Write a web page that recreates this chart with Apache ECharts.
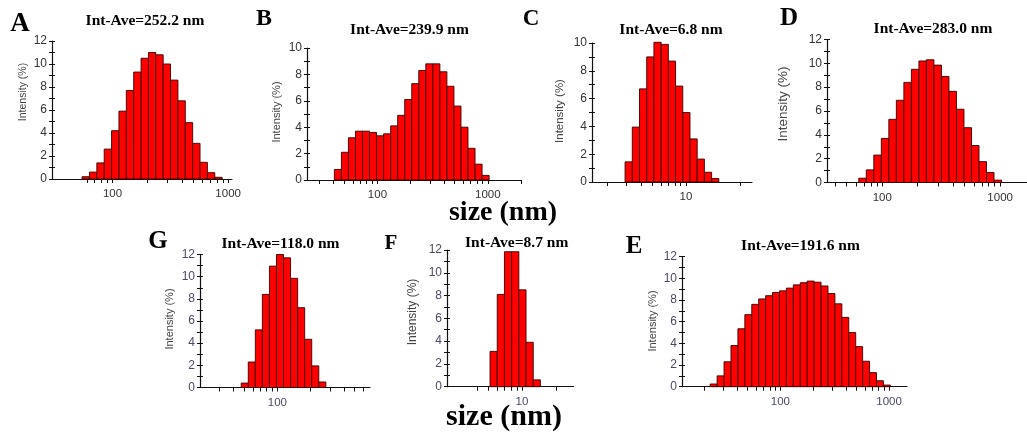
<!DOCTYPE html>
<html><head><meta charset="utf-8">
<script src="https://cdn.jsdelivr.net/npm/echarts@6/dist/echarts.min.js"></script>
<style>html,body{margin:0;padding:0;background:#fff}#c{width:1027px;height:433px}</style>
</head><body><div id="c"></div>
<script>
// ---------- DATA (bin centre size in nm, intensity in %) ----------
const sizesA = [58.77, 68.06, 78.82, 91.28, 105.7, 122.4, 141.8, 164.2, 190.1, 220.2, 255, 295.3, 342, 396.1, 458.7, 531.2, 615.1, 712.4, 825];
const intensityA = [0.2, 0.6, 1.4, 2.6, 4.2, 5.9, 7.7, 9.3, 10.5, 11.0, 10.8, 10.0, 8.6, 6.8, 4.9, 3.1, 1.45, 0.55, 0.15];

const sizesB = [43.82, 50.75, 58.77, 68.06, 78.82, 91.28, 105.7, 122.4, 141.8, 164.2, 190.1, 220.2, 255, 295.3, 342, 396.1, 458.7, 531.2, 615.1, 712.4, 825, 955.4];
const intensityB = [0.8, 2.1, 3.2, 3.7, 3.7, 3.6, 3.35, 3.5, 4.1, 4.9, 6.1, 7.3, 8.3, 8.8, 8.8, 8.2, 7.1, 5.6, 4.0, 2.4, 1.2, 0.35];

const sizesC = [3.122, 3.615, 4.187, 4.849, 5.615, 6.503, 7.531, 8.721, 10.1, 11.7, 13.54, 15.69, 18.17];
const intensityC = [1.45, 3.95, 6.7, 9.0, 10.05, 9.9, 8.7, 6.9, 5.0, 3.1, 1.65, 0.7, 0.25];

const sizesD = [68.06, 78.82, 91.28, 105.7, 122.4, 141.8, 164.2, 190.1, 220.2, 255, 295.3, 342, 396.1, 458.7, 531.2, 615.1, 712.4, 825, 955.4];
const intensityD = [0.36, 1.06, 2.3, 3.7, 5.3, 6.9, 8.4, 9.5, 10.2, 10.3, 9.85, 8.9, 7.65, 6.15, 4.6, 3.1, 1.75, 0.84, 0.2];

const sizesG = [50.75, 58.77, 68.06, 78.82, 91.28, 105.7, 122.4, 141.8, 164.2, 190.1, 220.2, 255];
const intensityG = [0.4, 2.3, 5.2, 8.4, 10.95, 12.0, 11.7, 9.85, 7.2, 4.35, 1.95, 0.5];

const sizesF = [5.615, 6.503, 7.531, 8.721, 10.1, 11.7, 13.54];
const intensityF = [3.1, 8.1, 11.85, 11.85, 8.5, 3.9, 0.6];

const sizesE = [24.36, 28.21, 32.67, 37.84, 43.82, 50.75, 58.77, 68.06, 78.82, 91.28, 105.7, 122.4, 141.8, 164.2, 190.1, 220.2, 255, 295.3, 342, 396.1, 458.7, 531.2, 615.1, 712.4, 825, 955.4];
const intensityE = [0.25, 1.0, 2.3, 3.8, 5.35, 6.65, 7.6, 8.1, 8.4, 8.7, 8.85, 9.1, 9.4, 9.6, 9.75, 9.65, 9.3, 8.6, 7.65, 6.4, 5.0, 3.7, 2.35, 1.3, 0.55, 0.15];

// ---------- TEXT / TICKS ----------
const panelLetters = ['A', 'B', 'C', 'D', 'G', 'F', 'E'];
const aveLabels = ['Int-Ave=252.2 nm', 'Int-Ave=239.9 nm', 'Int-Ave=6.8 nm', 'Int-Ave=283.0 nm', 'Int-Ave=118.0 nm', 'Int-Ave=8.7 nm', 'Int-Ave=191.6 nm'];
const yAxisTitle = 'Intensity (%)';
const xAxisTitle = 'size (nm)';
const yMaxes = [12, 10, 10, 12, 12, 12, 12];
const xLabelsA = [100, 1000], xLabelsB = [100, 1000], xLabelsC = [10], xLabelsD = [100, 1000], xLabelsG = [100], xLabelsF = [10], xLabelsE = [100, 1000];
const xTicksA = [60, 70, 80, 90, 100, 200, 300, 400, 500, 600, 700, 800, 900, 1000];
const xTicksB = [30, 40, 50, 60, 70, 80, 90, 100, 200, 300, 400, 500, 600, 700, 800, 900, 1000, 2000];
const xTicksC = [2, 3, 4, 5, 6, 7, 8, 9, 10, 30];
const xTicksD = [40, 50, 60, 70, 80, 90, 100, 200, 300, 400, 500, 600, 700, 800, 900, 1000];
const xTicksG = [30, 40, 50, 60, 70, 80, 90, 100, 200, 300, 400, 500, 600];
const xTicksF = [4, 5, 6, 7, 8, 9, 10, 20];
const xTicksE = [20, 30, 40, 50, 60, 70, 80, 90, 100, 200, 300, 400, 500, 600, 700, 800, 900, 1000];

const panels = [
  {sizes: sizesA, vals: intensityA, xl: xLabelsA, xt: xTicksA},
  {sizes: sizesB, vals: intensityB, xl: xLabelsB, xt: xTicksB},
  {sizes: sizesC, vals: intensityC, xl: xLabelsC, xt: xTicksC},
  {sizes: sizesD, vals: intensityD, xl: xLabelsD, xt: xTicksD},
  {sizes: sizesG, vals: intensityG, xl: xLabelsG, xt: xTicksG},
  {sizes: sizesF, vals: intensityF, xl: xLabelsF, xt: xTicksF},
  {sizes: sizesE, vals: intensityE, xl: xLabelsE, xt: xTicksE}
];

// ---------- LAYOUT (pixels) ----------
const geo = [
  {l: 52,  r: 232,  t: 41,    b: 179,   xmin: 30,   xmax: 1080, letter: [20, 24, 27],   title: [145, 21],    yname: [23, 92, 10.5],   lab: '#333'},
  {l: 307, r: 521,  t: 48,    b: 180,   xmin: 23,   xmax: 2000, letter: [264, 18.5, 24], title: [409.5, 30],  yname: [277, 112, 11],   lab: '#333'},
  {l: 592, r: 752,  t: 43,    b: 182,   xmin: 1.48, xmax: 38.4, letter: [531, 19.5, 23], title: [671, 29.5],  yname: [560, 111, 11.5], lab: '#333'},
  {l: 827, r: 1027, t: 39.5,  b: 182.5, xmin: 34,   xmax: 1690, letter: [789, 18.5, 25], title: [933, 29],    yname: [783, 104, 13.5], lab: '#333'},
  {l: 200, r: 370,  t: 254.5, b: 387.5, xmin: 20,   xmax: 688,  letter: [158, 242, 25],  title: [280.5, 243.5], yname: [170, 319, 11],  lab: '#4a4a66'},
  {l: 447, r: 573.5, t: 250,  b: 386.7, xmin: 2.17, xmax: 28.6, letter: [391, 243.5, 21], title: [516.7, 243], yname: [413, 312, 12],  lab: '#4a4a66'},
  {l: 682, r: 907,  t: 256.7, b: 386.7, xmin: 12.46, xmax: 1463, letter: [634, 247, 25], title: [800.5, 245.5], yname: [653, 321, 11],  lab: '#4a4a66'}
];

function toBars(sizes, vals) {
  return sizes.map((s, i) => {
    const prev = i > 0 ? sizes[i - 1] : s * s / sizes[i + 1];
    const next = i < sizes.length - 1 ? sizes[i + 1] : s * s / sizes[i - 1];
    return [Math.sqrt(prev * s), Math.sqrt(s * next), vals[i]];
  });
}

const SERIF = '"Liberation Serif","Times New Roman",serif';
const SANS = '"Liberation Sans",Arial,sans-serif';

const grid = [], xAxis = [], yAxis = [], series = [], graphic = [];
panels.forEach((p, i) => {
  const g = geo[i];
  grid.push({left: g.l, top: g.t, width: g.r - g.l, height: g.b - g.t, containLabel: false, outerBoundsMode: 'none'});
  xAxis.push({
    type: 'log', logBase: 10, gridIndex: i, min: g.xmin, max: g.xmax, position: 'bottom',
    axisLine: {show: true, onZero: false, lineStyle: {color: '#111', width: 1.2}},
    axisTick: {show: true, length: 4, customValues: p.xt, lineStyle: {color: '#111', width: 1}},
    axisLabel: {show: true, customValues: p.xl, margin: 9, fontFamily: SANS, fontSize: 11.5, color: g.lab,
      formatter: v => String(Math.round(v))},
    splitLine: {show: false}, minorTick: {show: false}, minorSplitLine: {show: false}
  });
  const yBase = {type: 'value', gridIndex: i, position: 'left', offset: 0, min: 0, max: yMaxes[i], interval: 2, splitLine: {show: false}};
  yAxis.push(Object.assign({}, yBase, {
    axisLine: {show: true, onZero: false, lineStyle: {color: '#111', width: 1.2}},
    axisTick: {show: true, length: 3, lineStyle: {color: '#111'}},
    minorTick: {show: true, splitNumber: 2, length: 3, lineStyle: {color: '#111'}},
    axisLabel: {show: true, margin: 5, fontFamily: SANS, fontSize: 12, color: g.lab}
  }));
  yAxis.push(Object.assign({}, yBase, {
    axisLine: {show: false, onZero: false},
    axisTick: {show: true, inside: true, length: 3, lineStyle: {color: '#111'}},
    minorTick: {show: true, splitNumber: 2, length: 3, lineStyle: {color: '#111'}},
    axisLabel: {show: false}
  }));
  series.push({
    type: 'custom', xAxisIndex: i, yAxisIndex: 2 * i,
    data: toBars(p.sizes, p.vals),
    encode: {x: [0, 1], y: 2},
    renderItem: (params, api) => {
      const a = api.coord([api.value(0), api.value(2)]);
      const b = api.coord([api.value(1), 0]);
      return {type: 'rect', shape: {x: a[0], y: a[1], width: b[0] - a[0], height: b[1] - a[1]},
        style: {fill: '#ff0000', stroke: '#3a0000', lineWidth: 0.9}};
    }
  });
  graphic.push({type: 'text', x: g.letter[0], y: g.letter[1],
    style: {text: panelLetters[i], font: 'bold ' + g.letter[2] + 'px ' + SERIF, fill: '#000', align: 'center', verticalAlign: 'middle'}});
  graphic.push({type: 'text', x: g.title[0], y: g.title[1],
    style: {text: aveLabels[i], font: 'bold 15.5px ' + SERIF, fill: '#000', align: 'center', verticalAlign: 'middle'}});
  graphic.push({type: 'text', x: g.yname[0], y: g.yname[1], rotation: Math.PI / 2,
    style: {text: yAxisTitle, font: g.yname[2] + 'px ' + SANS, fill: '#444', align: 'center', verticalAlign: 'middle'}});
});
graphic.push({type: 'text', x: 503, y: 213, style: {text: xAxisTitle, font: 'bold 28px ' + SERIF, fill: '#000', align: 'center', verticalAlign: 'middle'}});
graphic.push({type: 'text', x: 504, y: 417, style: {text: xAxisTitle, font: 'bold 30px ' + SERIF, fill: '#000', align: 'center', verticalAlign: 'middle'}});

const chart = echarts.init(document.getElementById('c'), null, {renderer: 'canvas'});
chart.setOption({animation: false, backgroundColor: '#fff', grid, xAxis, yAxis, series, graphic});
</script></body></html>
